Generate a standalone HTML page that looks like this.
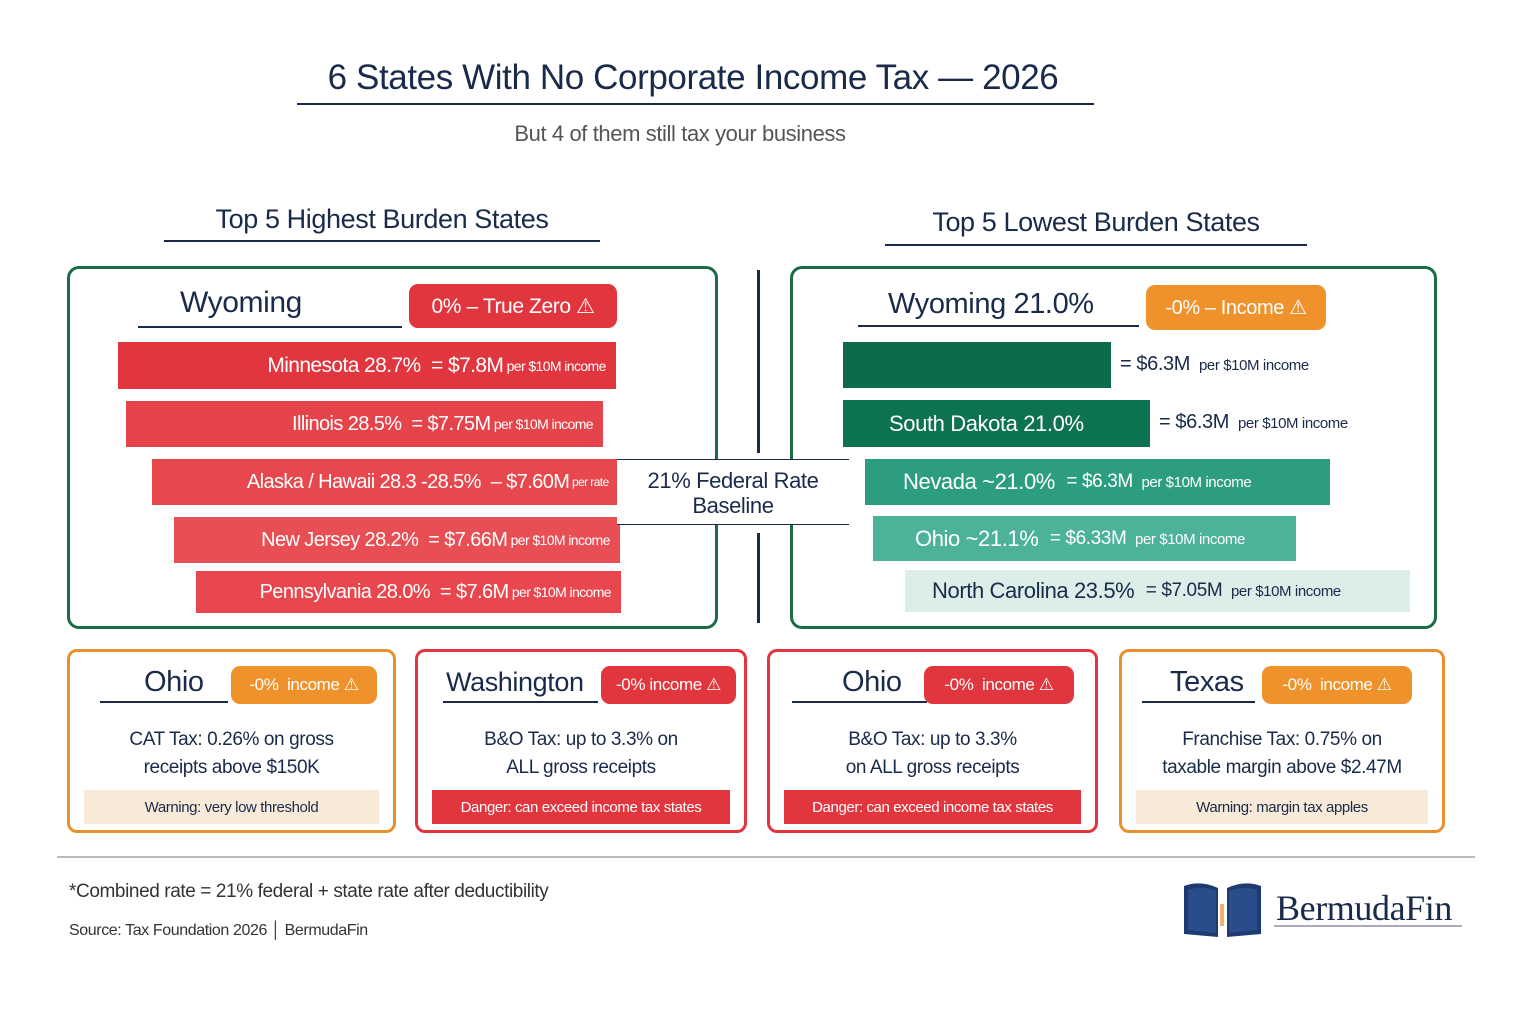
<!DOCTYPE html>
<html><head><meta charset="utf-8">
<style>
*{box-sizing:border-box;margin:0;padding:0}
body{width:1536px;height:1024px;background:#fff;position:relative;overflow:hidden;font-family:"Liberation Sans",sans-serif;color:#1a2a4a;letter-spacing:-0.4px}
.a{position:absolute}
.t{white-space:nowrap}
.uline{position:absolute;height:2px;background:#1a2a4a}
.panel{position:absolute;border:3px solid #1b6b45;border-radius:12px}
.bar{position:absolute;display:flex;align-items:center;white-space:nowrap;color:#fff;overflow:hidden}
.pill{position:absolute;border-radius:9px;color:#fff;display:flex;align-items:center;justify-content:center;white-space:nowrap}
.card{position:absolute;border:3px solid;border-radius:10px;background:#fff}
.ct{position:absolute;width:100%;text-align:center;font-size:19px;line-height:28px;color:#1a2a4a}
.note{position:absolute;left:14px;right:14px;top:138px;height:34px;display:flex;align-items:center;justify-content:center;font-size:15px}
</style></head><body>
<div class="a t" style="left:0;width:1386px;top:58px;text-align:center;font-size:35px;color:#1a2a4a">6 States With No Corporate Income Tax — 2026</div>
<div class="uline" style="left:297px;width:797px;top:103px"></div>
<div class="a t" style="left:0;width:1360px;top:121px;text-align:center;font-size:22px;color:#555">But 4 of them still tax your business</div>

<div class="a t" style="left:164px;width:436px;top:204px;text-align:center;font-size:27px">Top 5 Highest Burden States</div>
<div class="uline" style="left:164px;width:436px;top:240px"></div>
<div class="a t" style="left:885px;width:422px;top:207px;text-align:center;font-size:27px">Top 5 Lowest Burden States</div>
<div class="uline" style="left:885px;width:422px;top:244px"></div>

<div class="panel" style="left:67px;top:266px;width:651px;height:363px"></div>
<div class="panel" style="left:790px;top:266px;width:647px;height:363px"></div>

<div class="a t" style="left:180px;top:286px;font-size:30px">Wyoming</div>
<div class="uline" style="left:138px;width:264px;top:326px;height:1.5px"></div>
<div class="pill" style="left:409px;top:284px;width:208px;height:44px;background:#e2363e;font-size:21px">0% – True Zero ⚠</div>

<div id="leftbars"></div>

<div class="a" style="left:757px;top:270px;width:3px;height:183px;background:#1a2a4a"></div>
<div class="a" style="left:757px;top:533px;width:3px;height:90px;background:#1a2a4a"></div>
<div class="a" style="left:617px;top:459px;width:232px;height:66px;border-top:1.5px solid #1a2a4a;border-bottom:1.5px solid #1a2a4a;background:#fff;text-align:center;font-size:22px;line-height:25px;padding-top:8px">21% Federal Rate<br>Baseline</div>

<div class="a t" style="left:888px;top:288px;font-size:29px">Wyoming 21.0%</div>
<div class="uline" style="left:858px;width:281px;top:325px;height:1.5px"></div>
<div class="pill" style="left:1146px;top:285px;width:180px;height:45px;background:#f0922b;font-size:20px">-0% – Income ⚠</div>

<div id="rightbars"></div>

<div class="card" style="left:67px;top:649px;width:329px;height:184px;border-color:#e8902e">
 <div class="a t" style="left:74px;top:14px;font-size:29px">Ohio</div>
 <div class="uline" style="left:30px;width:128px;top:49px;height:1.5px"></div>
 <div class="pill" style="left:161px;top:14px;width:146px;height:38px;background:#f0922b;font-size:17px">-0% &nbsp;income ⚠</div>
 <div class="ct" style="top:74px">CAT Tax: 0.26% on gross<br>receipts above $150K</div>
 <div class="note" style="background:#f8ead8;color:#1a2a4a">Warning: very low threshold</div>
</div>
<div class="card" style="left:415px;top:649px;width:332px;height:184px;border-color:#e2363e">
 <div class="a t" style="left:28px;top:15px;font-size:27px">Washington</div>
 <div class="uline" style="left:25px;width:155px;top:49px;height:1.5px"></div>
 <div class="pill" style="left:183px;top:14px;width:135px;height:38px;background:#e2363e;font-size:17px">-0% income ⚠</div>
 <div class="ct" style="top:74px">B&amp;O Tax: up to 3.3% on<br>ALL gross receipts</div>
 <div class="note" style="background:#e2363e;color:#fff">Danger: can exceed income tax states</div>
</div>
<div class="card" style="left:767px;top:649px;width:331px;height:184px;border-color:#e2363e">
 <div class="a t" style="left:72px;top:14px;font-size:29px">Ohio</div>
 <div class="uline" style="left:22px;width:135px;top:49px;height:1.5px"></div>
 <div class="pill" style="left:154px;top:14px;width:150px;height:38px;background:#e2363e;font-size:17px">-0% &nbsp;income ⚠</div>
 <div class="ct" style="top:74px">B&amp;O Tax: up to 3.3%<br>on ALL gross receipts</div>
 <div class="note" style="background:#e2363e;color:#fff">Danger: can exceed income tax states</div>
</div>
<div class="card" style="left:1119px;top:649px;width:326px;height:184px;border-color:#e8902e">
 <div class="a t" style="left:48px;top:14px;font-size:29px">Texas</div>
 <div class="uline" style="left:20px;width:113px;top:49px;height:1.5px"></div>
 <div class="pill" style="left:140px;top:14px;width:150px;height:38px;background:#f0922b;font-size:17px">-0% &nbsp;income ⚠</div>
 <div class="ct" style="top:74px">Franchise Tax: 0.75% on<br>taxable margin above $2.47M</div>
 <div class="note" style="background:#f8ead8;color:#1a2a4a">Warning: margin tax apples</div>
</div>

<div class="a" style="left:57px;top:856px;width:1418px;height:1.5px;background:#bbb"></div>
<div class="a t" style="left:69px;top:881px;font-size:19px;color:#333">*Combined rate = 21% federal + state rate after deductibility</div>
<div class="a t" style="left:69px;top:922px;font-size:16px;color:#333">Source: Tax Foundation 2026 │ BermudaFin</div>

<svg class="a" style="left:1180px;top:880px" width="85" height="60" viewBox="0 0 85 60">
 <path d="M4 6 L4 54 L38 57 L38 8 Q20 0 4 6Z" fill="#1e3a6e"/>
 <path d="M81 6 L81 54 L47 57 L47 8 Q65 0 81 6Z" fill="#1e3a6e"/>
 <path d="M8 10 L8 50 L36 53 L36 11 Q22 5 8 10Z" fill="#284d8a"/>
 <path d="M77 10 L77 50 L49 53 L49 11 Q63 5 77 10Z" fill="#284d8a"/>
 <rect x="40" y="24" width="4" height="22" fill="#f0b070"/>
</svg>
<div class="a t" style="left:1276px;top:887px;font-size:36px;font-family:'Liberation Serif',serif;color:#1a2a4a">BermudaFin</div>
<div class="a" style="left:1274px;top:925px;width:188px;height:2px;background:#aab"></div>

<script>
const highStates=["Minnesota","Illinois","Alaska / Hawaii","New Jersey","Pennsylvania"];
const highRates=[28.7,28.5,28.4,28.2,28.0];
const highRateLabels=["28.7%","28.5%","28.3 -28.5%","28.2%","28.0%"];
const highAmounts=["$7.8M","$7.75M","$7.60M","$7.66M","$7.6M"];
const lowStates=["","South Dakota","Nevada","Ohio","North Carolina"];
const lowRates=[21.0,21.0,21.0,21.1,23.5];
const lowRateLabels=["","21.0%","~21.0%","~21.1%","23.5%"];
const lowAmounts=["$6.3M","$6.3M","$6.3M","$6.33M","$7.05M"];

function hw(r){return 425+(r-28)*104;}
const L=document.getElementById('leftbars');
const redCols=["#e2363e","#e5444a","#e6484e","#e84f55","#e8474d"];
const hx=[118,126,152,174,196];
highStates.forEach((s,i)=>{
  const d=document.createElement('div');
  
  
  d.className='bar';
  const w=hw(highRates[i]);
  const y=[342,401,459,517,571][i];
  d.style.cssText=`left:${hx[i]}px;top:${y}px;width:${w}px;height:${i==0?47:i==4?42:46}px;background:${redCols[i]};justify-content:flex-end;padding-right:10px;font-size:${i==0?21:20}px;letter-spacing:-0.6px`;
  const tail=i==2?`– ${highAmounts[i]} <span style="font-size:12px">&nbsp;per rate</span>`:`= ${highAmounts[i]} <span style="font-size:14px">&nbsp;per $10M income</span>`;
  d.innerHTML=`${s} ${highRateLabels[i]} &nbsp;${tail}`;
  L.appendChild(d);
});
const R=document.getElementById('rightbars');
const greenCols=["#0b6b4a","#0d7250","#2d9d80","#4db29a","#dbeee8"];
const lowX=[843,843,865,873,905];
const lowY=[342,400,459,516,570];
lowStates.forEach((s,i)=>{
  const d=document.createElement('div');
  
  
  d.className='bar';
  const w=[268,307,465,423,505][i];
  const h=[46,47,46,45,42][i];
  d.style.cssText=`left:${lowX[i]}px;top:${lowY[i]}px;width:${w}px;height:${h}px;background:${greenCols[i]};font-size:22px;padding-left:${i==4?27:i==1?46:i==3?42:38}px;color:${i==4?'#1a2a4a':'#fff'}`;
  const amt=`= ${lowAmounts[i]} <span style="font-size:15px">&nbsp;per $10M income</span>`;
  if(i<2){
    d.innerHTML=s?`${s} ${lowRateLabels[i]}`:'';
    const t=document.createElement('div');
    
    
    t.className='a t';
    t.style.cssText=`left:${lowX[i]+w+9}px;top:${lowY[i]+11}px;font-size:20px;color:#1a2a4a`;
    t.innerHTML=amt;
    R.appendChild(t);
  } else {
    d.innerHTML=`${s} ${lowRateLabels[i]} &nbsp;<span style="font-size:19px">${amt}</span>`;
  }
  R.appendChild(d);
});
</script>
</body></html>
